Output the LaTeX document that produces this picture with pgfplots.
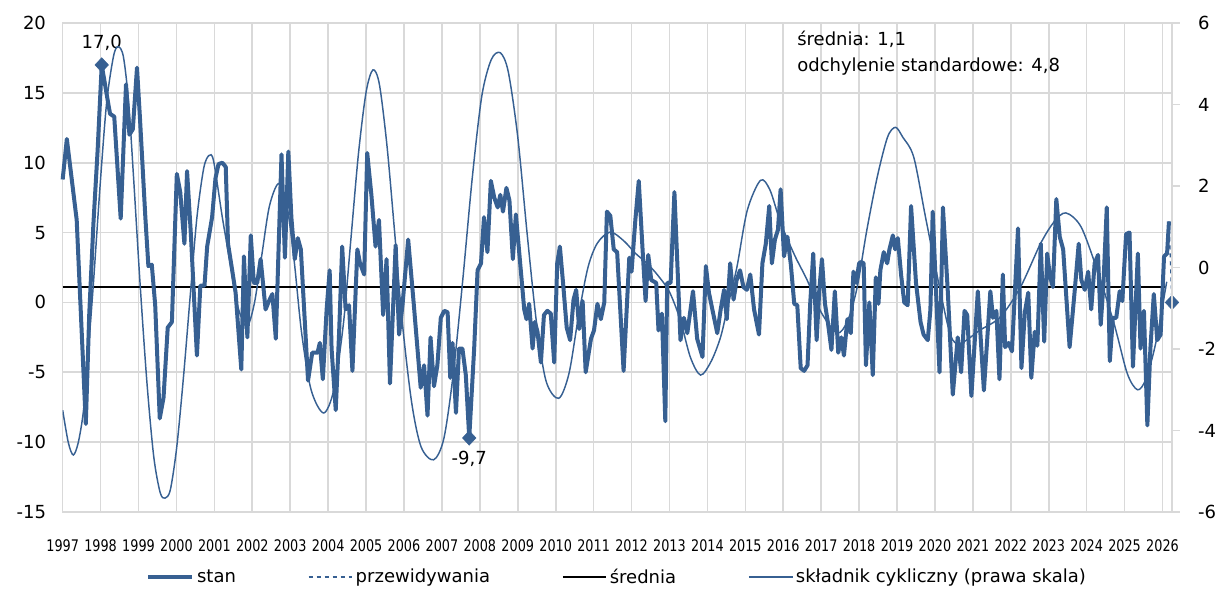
\documentclass[border=0pt]{standalone}
\usepackage{fontspec}
\setmainfont{DejaVu Sans}
\newfontfamily\condensed[FakeStretch=0.8]{DejaVu Sans}
\usepackage{pgfplots}
\pgfplotsset{compat=1.18}
\definecolor{blu}{RGB}{55,96,146}
\definecolor{gridg}{RGB}{217,217,217}

\pgfplotstableread{
x y
1997.00 8.8
1997.11 11.7
1997.37 5.9
1997.61 -8.7
1997.70 -0.9
1997.81 5.6
1997.92 10.8
1998.03 17.0
1998.21 14.1
1998.25 13.5
1998.36 13.3
1998.53 6.0
1998.67 15.6
1998.76 12.0
1998.85 12.4
1998.96 16.8
1999.04 13.1
1999.18 6.1
1999.26 2.6
1999.35 2.7
1999.44 -0.2
1999.56 -8.3
1999.66 -6.8
1999.77 -1.8
1999.88 -1.4
2000.01 9.2
2000.10 7.9
2000.21 4.2
2000.28 9.4
2000.38 4.9
2000.54 -3.8
2000.63 1.2
2000.74 1.2
2000.81 4.0
2000.94 6.1
2001.03 8.9
2001.11 9.9
2001.21 10.0
2001.30 9.7
2001.36 4.2
2001.47 2.3
2001.56 0.7
2001.71 -4.8
2001.78 3.3
2001.87 -2.5
2001.96 4.8
2002.04 1.4
2002.13 1.4
2002.22 3.1
2002.35 -0.5
2002.44 0.1
2002.53 0.6
2002.62 -2.6
2002.77 10.6
2002.86 3.2
2002.95 10.8
2003.03 6.1
2003.12 3.1
2003.20 4.6
2003.28 3.8
2003.47 -5.6
2003.58 -3.6
2003.72 -3.6
2003.78 -2.9
2003.86 -5.5
2003.96 -0.5
2004.04 2.3
2004.09 -3.3
2004.20 -7.7
2004.29 -2.1
2004.37 4.0
2004.46 -0.5
2004.55 -0.2
2004.64 -4.9
2004.77 3.8
2004.84 2.8
2004.95 2.0
2005.03 10.7
2005.14 7.7
2005.25 4.0
2005.34 5.9
2005.45 -0.9
2005.54 3.1
2005.63 -5.8
2005.78 4.1
2005.87 -2.3
2005.96 -0.2
2006.11 4.5
2006.26 -0.2
2006.44 -6.1
2006.53 -4.5
2006.62 -8.1
2006.70 -2.5
2006.79 -6.0
2006.88 -4.5
2006.97 -1.1
2007.06 -0.6
2007.15 -0.7
2007.22 -5.4
2007.28 -2.9
2007.37 -7.9
2007.45 -3.3
2007.54 -3.3
2007.63 -5.2
2007.72 -9.7
2007.85 -3.3
2007.94 2.3
2008.03 2.8
2008.11 6.1
2008.20 3.6
2008.29 8.7
2008.38 7.5
2008.47 6.8
2008.54 7.7
2008.61 6.5
2008.70 8.2
2008.78 7.3
2008.87 3.1
2008.95 6.3
2009.17 -0.5
2009.23 -1.2
2009.30 -0.1
2009.39 -3.3
2009.45 -1.4
2009.52 -2.1
2009.61 -4.3
2009.69 -0.9
2009.78 -0.6
2009.87 -0.8
2009.96 -4.3
2010.04 2.8
2010.11 4.0
2010.20 1.2
2010.29 -1.8
2010.38 -2.7
2010.47 0.2
2010.54 0.9
2010.62 -1.9
2010.71 0.1
2010.79 -5.0
2010.93 -2.6
2011.01 -2.0
2011.10 -0.1
2011.19 -1.2
2011.28 0.0
2011.35 6.5
2011.44 6.2
2011.53 3.8
2011.62 3.6
2011.79 -4.9
2011.94 3.2
2012.00 2.2
2012.10 5.9
2012.19 8.7
2012.29 3.8
2012.37 0.1
2012.44 3.4
2012.52 1.6
2012.65 1.4
2012.71 -2.0
2012.80 -0.8
2012.89 -8.5
2012.94 1.4
2013.03 1.4
2013.13 7.9
2013.29 -2.7
2013.38 -1.1
2013.47 -2.2
2013.62 0.8
2013.73 -2.6
2013.87 -3.9
2013.96 2.6
2014.04 0.7
2014.13 -0.5
2014.26 -2.2
2014.35 -0.5
2014.44 0.9
2014.51 -1.2
2014.60 2.8
2014.69 0.2
2014.77 1.6
2014.86 2.3
2014.95 1.1
2015.04 0.9
2015.13 2.0
2015.23 -0.5
2015.36 -2.3
2015.45 2.8
2015.54 4.2
2015.63 6.9
2015.70 2.8
2015.78 4.5
2015.86 5.2
2015.93 8.1
2016.02 3.3
2016.11 4.7
2016.20 2.7
2016.29 -0.1
2016.37 -0.2
2016.46 -4.7
2016.55 -4.9
2016.64 -4.5
2016.71 -0.1
2016.79 3.5
2016.88 -2.7
2016.95 0.9
2017.02 3.1
2017.10 -0.1
2017.18 -1.5
2017.27 -3.4
2017.36 0.8
2017.45 -3.6
2017.53 -2.5
2017.60 -3.8
2017.69 -1.2
2017.78 -2.2
2017.85 2.2
2017.92 1.4
2018.00 2.8
2018.05 2.9
2018.12 2.8
2018.18 -4.5
2018.27 0.0
2018.36 -5.2
2018.44 1.8
2018.51 -0.1
2018.56 2.3
2018.65 3.6
2018.74 2.8
2018.80 3.8
2018.89 4.8
2018.95 3.8
2019.02 4.6
2019.11 1.9
2019.19 0.0
2019.28 -0.2
2019.37 6.9
2019.50 1.4
2019.62 -1.4
2019.70 -2.3
2019.81 -2.7
2019.88 -0.5
2019.94 6.5
2020.03 0.7
2020.12 -5.0
2020.21 6.8
2020.34 0.7
2020.47 -6.6
2020.60 -2.5
2020.69 -5.0
2020.78 -0.6
2020.85 -0.9
2020.96 -6.7
2021.13 0.8
2021.29 -6.3
2021.46 0.8
2021.53 -1.1
2021.62 -0.6
2021.70 -5.5
2021.79 2.0
2021.85 -3.2
2021.94 -2.9
2022.03 -3.5
2022.19 5.3
2022.28 -4.7
2022.37 -0.7
2022.46 0.7
2022.54 -5.4
2022.63 -2.1
2022.70 -3.1
2022.79 4.2
2022.88 -2.8
2022.96 3.5
2023.03 1.9
2023.11 1.1
2023.20 7.4
2023.29 4.7
2023.38 3.8
2023.55 -3.2
2023.68 0.7
2023.79 4.2
2023.86 1.6
2023.95 0.9
2024.04 2.2
2024.12 -0.5
2024.21 2.8
2024.30 3.4
2024.37 -1.6
2024.44 1.2
2024.53 6.8
2024.61 -4.2
2024.69 -1.1
2024.78 -1.1
2024.87 0.8
2024.94 0.1
2025.04 4.9
2025.13 5.0
2025.22 -4.6
2025.35 3.5
2025.42 -3.3
2025.51 -0.6
2025.60 -8.8
2025.68 -3.3
2025.77 0.6
2025.86 -2.7
2025.95 -2.3
2026.04 3.3
2026.12 3.5
2026.17 5.8
}\stan

\pgfplotstableread{
x y
1997.00 -3.5
1997.15 -4.3
1997.28 -4.6
1997.41 -4.3
1997.55 -3.5
1997.68 -2.0
1997.81 -0.4
1997.99 2.05
1998.16 4.05
1998.34 5.18
1998.46 5.42
1998.60 5.18
1998.74 4.05
1998.87 2.2
1999.04 -0.38
1999.22 -2.8
1999.40 -4.63
1999.57 -5.52
1999.70 -5.66
1999.84 -5.45
2000.01 -4.39
2000.19 -2.64
2000.37 -0.62
2000.54 1.23
2000.72 2.44
2000.86 2.75
2000.98 2.61
2001.21 1.23
2001.40 0.2
2001.60 -0.9
2001.85 -1.45
2002.05 -0.9
2002.25 0.3
2002.45 1.5
2002.69 2.06
2002.90 1.6
2003.10 0.2
2003.30 -1.6
2003.55 -3.0
2003.88 -3.57
2004.15 -3.0
2004.40 -1.4
2004.60 0.7
2004.80 2.8
2005.00 4.3
2005.18 4.85
2005.35 4.5
2005.55 3.0
2005.75 0.9
2005.95 -1.3
2006.20 -3.3
2006.45 -4.4
2006.78 -4.72
2007.05 -4.2
2007.30 -2.6
2007.55 -0.3
2007.80 2.2
2008.05 4.2
2008.30 5.1
2008.54 5.27
2008.75 4.8
2009.00 3.2
2009.25 0.8
2009.50 -1.4
2009.75 -2.8
2010.08 -3.21
2010.35 -2.6
2010.60 -1.2
2010.85 0.0
2011.10 0.6
2011.44 0.87
2011.80 0.65
2012.10 0.35
2012.41 0.1
2012.70 -0.2
2013.00 -0.6
2013.29 -1.3
2013.55 -2.2
2013.82 -2.64
2014.10 -2.3
2014.35 -1.7
2014.55 -0.9
2014.78 0.02
2015.05 1.4
2015.40 2.14
2015.65 1.9
2015.93 1.1
2016.30 0.3
2016.63 -0.31
2017.00 -1.1
2017.42 -1.61
2017.70 -1.3
2017.95 -0.48
2018.20 0.9
2018.48 2.23
2018.75 3.2
2018.96 3.44
2019.15 3.2
2019.44 2.71
2019.75 1.24
2020.10 -0.39
2020.41 -1.66
2020.67 -1.86
2021.20 -1.53
2021.73 -1.21
2022.26 -0.47
2022.78 0.58
2023.14 1.12
2023.45 1.34
2023.85 1.0
2024.28 -0.07
2024.72 -1.37
2025.07 -2.6
2025.34 -3.0
2025.56 -2.74
2025.82 -1.86
2026.11 -0.35
}\cyc

\begin{document}
\begin{tikzpicture}
\path[use as bounding box] (-47pt,-61.5pt) rectangle (865.75pt,384pt);
\begin{axis}[
  scale only axis, width=832pt, height=366.75pt,
  xmin=1997, xmax=2026.25, ymin=-15, ymax=20,
  xtick={1997,1998,...,2026},
  xticklabels={1997,1998,1999,2000,2001,2002,2003,2004,2005,2006,2007,2008,2009,2010,2011,2012,2013,2014,2015,2016,2017,2018,2019,2020,2021,2022,2023,2024,2025,2026},
  ytick={-15,-10,...,20},
  yticklabels={-15,-10,-5,0,5,10,15,20},
  grid=major, grid style={gridg, line width=1.2pt},
  axis line style={gridg, line width=1.2pt},
  major tick length=0pt,
  yticklabel style={font=\fontsize{13.5}{15}\selectfont, xshift=-9pt},
  xticklabel style={font=\condensed\fontsize{12}{13}\selectfont, yshift=-17pt},
  clip=false,
]
\addplot[black, line width=1.1pt] coordinates {(1997,1.1) (2026.08,1.1)};
\addplot[blu, line width=3pt, line join=round] table[x=x,y=y] {\stan};
\addplot[blu, dashed, line width=1.1pt] coordinates {(2026.17,5.8) (2026.25,0.0)};
\addplot[blu, only marks, mark=diamond*, mark size=5.4pt, mark options={xscale=1.25}] coordinates {(1998.03,17.0) (2007.72,-9.7) (2026.25,0.0)};
\node[font=\fontsize{13.5}{15}\selectfont] at (axis cs:1998.03,18.6) {17,0};
\node[font=\fontsize{13.5}{15}\selectfont] at (axis cs:2007.72,-11.2) {-9,7};
\node[anchor=north west, align=left, font=\fontsize{13.5}{20}\selectfont, inner sep=0pt] at (rel axis cs:0.662,0.985) {średnia: 1,1\\odchylenie standardowe: 4,8};
\end{axis}
\begin{axis}[
  scale only axis, width=832pt, height=366.75pt,
  xmin=1997, xmax=2026.25, ymin=-6, ymax=6,
  axis x line=none, axis y line*=right,
  ytick={-6,-4,...,6}, yticklabels={-6,-4,-2,0,2,4,6},
  axis line style={gridg, line width=1.2pt},
  tick style={gridg, line width=1.2pt},
  tick align=outside, major tick length=6pt,
  yticklabel style={anchor=west, xshift=10pt, font=\fontsize{13.5}{15}\selectfont},
  legend columns=4,
  legend style={draw=none, fill=none, at={(0.5,-0.133)}, anchor=center, font=\fontsize{13.5}{15}\selectfont, /tikz/every even column/.append style={column sep=52pt}},
  legend cell align=left,
  legend image code/.code={\draw[#1] (0cm,0cm) -- (1.15cm,0cm);},
]
\addlegendimage{blu, line width=3.5pt}
\addlegendentry{stan}
\addlegendimage{blu, dashed, line width=1.1pt}
\addlegendentry{przewidywania}
\addlegendimage{black, line width=1.1pt}
\addlegendentry{średnia}
\addplot[blu, line width=1.1pt, smooth] table[x=x,y=y] {\cyc};
\addlegendentry{składnik cykliczny (prawa skala)}
\end{axis}
\end{tikzpicture}
\end{document}
